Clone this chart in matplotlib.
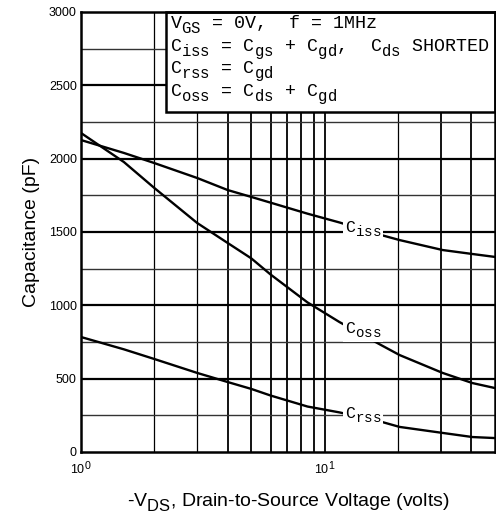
import matplotlib
matplotlib.use("Agg")
import matplotlib.pyplot as plt
import matplotlib._mathtext as mathtext_internal
from matplotlib.patches import Rectangle

plt.rcParams['mathtext.fontset'] = 'custom'
plt.rcParams['mathtext.rm'] = 'Liberation Sans'
plt.rcParams['mathtext.it'] = 'Liberation Sans'
plt.rcParams['mathtext.tt'] = 'Liberation Mono'
# the datasheet uses big, low subscripts
mathtext_internal.SHRINK_FACTOR = 0.85
mathtext_internal.FontConstantsBase.sub1 = 0.55

# -VDS (volts) and capacitances (pF)
vds = [1, 1.5, 2, 3, 4, 5, 6, 8.5, 11.5, 17, 20.3, 30.5, 40.4, 50]
ciss = [2127, 2039, 1970, 1868, 1786, 1739, 1700, 1625, 1565, 1480, 1445, 1377, 1350, 1330]
coss = [2175, 1977, 1800, 1561, 1425, 1320, 1210, 1020, 886, 730, 661, 539, 470, 436]
crss = [784, 700, 634, 539, 477, 430, 385, 310, 270, 207, 171, 130, 102, 95]

curve_labels = ['C$_{\\mathtt{iss}}$', 'C$_{\\mathtt{oss}}$', 'C$_{\\mathtt{rss}}$']
label_y = [1500, 811, 232]

x_ticks = [1, 10]
x_ticklabels = ['$\\mathregular{10^0}$', '$\\mathregular{10^1}$']
y_ticks = [0, 500, 1000, 1500, 2000, 2500, 3000]
x_grid = [2, 3, 4, 5, 6, 7, 8, 9, 10, 20, 30, 40]
y_grid_minor = [250, 750, 1250, 1750, 2250, 2750]

box_lines = [
    'V$_{\\mathtt{GS}}$ = 0V,  f = 1MHz',
    'C$_{\\mathtt{iss}}$ = C$_{\\mathtt{gs}}$ + C$_{\\mathtt{gd}}$,  C$_{\\mathtt{ds}}$ SHORTED',
    'C$_{\\mathtt{rss}}$ = C$_{\\mathtt{gd}}$',
    'C$_{\\mathtt{oss}}$ = C$_{\\mathtt{ds}}$ + C$_{\\mathtt{gd}}$',
]

fig = plt.figure(figsize=(4.96, 5.16), dpi=100)
ax = fig.add_axes([81 / 496, 1 - 452 / 516, 414 / 496, 440 / 516])
ax.set_xscale('log')
ax.set_xlim(1, 50)
ax.set_ylim(0, 3000)

# grid
for x in x_grid:
    ax.axvline(x, color='black', lw=1.3 if x not in (2, 3, 20) else 0.9, zorder=1)
for y in y_ticks[1:-1]:
    ax.axhline(y, color='black', lw=1.6, zorder=1)
for y in y_grid_minor:
    ax.axhline(y, color='#333333', lw=1.0, zorder=1)

# curves
for vals in (ciss, coss, crss):
    ax.plot(vds, vals, color='black', lw=1.7, zorder=3)

for lab, y in zip(curve_labels, label_y):
    ax.text(12.1, y, lab, fontsize=12, family='Liberation Mono', va='baseline', ha='left',
            zorder=4, bbox=dict(facecolor='white', edgecolor='none', pad=1.5))

# condition box
ax.add_patch(Rectangle((85 / 414, 1 - 100 / 440), 1 - 85 / 414, 100 / 440,
                       transform=ax.transAxes, facecolor='white', edgecolor='black',
                       lw=1.8, zorder=5, clip_on=False))
for i, line in enumerate(box_lines):
    ax.text(89 / 414, 1 - (17 + 22.5 * i) / 440, line, transform=ax.transAxes,
            fontsize=13.2, family='Liberation Mono', va='baseline', ha='left', zorder=6)

ax.set_xticks(x_ticks)
ax.set_xticklabels(x_ticklabels)
ax.xaxis.set_minor_locator(plt.NullLocator())
ax.set_yticks(y_ticks)
ax.tick_params(length=0, labelsize=9)
ax.tick_params(axis='y', pad=3)
ax.tick_params(axis='x', pad=6)
for lab in ax.get_xticklabels() + ax.get_yticklabels():
    lab.set_family('Liberation Sans')
for s in ax.spines.values():
    s.set_linewidth(1.8)
    s.set_zorder(7)

ax.set_ylabel('Capacitance (pF)', fontsize=14, family='Liberation Sans', labelpad=6)
ax.set_xlabel('-V$_{\\rm DS}$, Drain-to-Source Voltage (volts)', fontsize=14,
              family='Liberation Sans', labelpad=10)

fig.savefig('out.png', dpi=100)
